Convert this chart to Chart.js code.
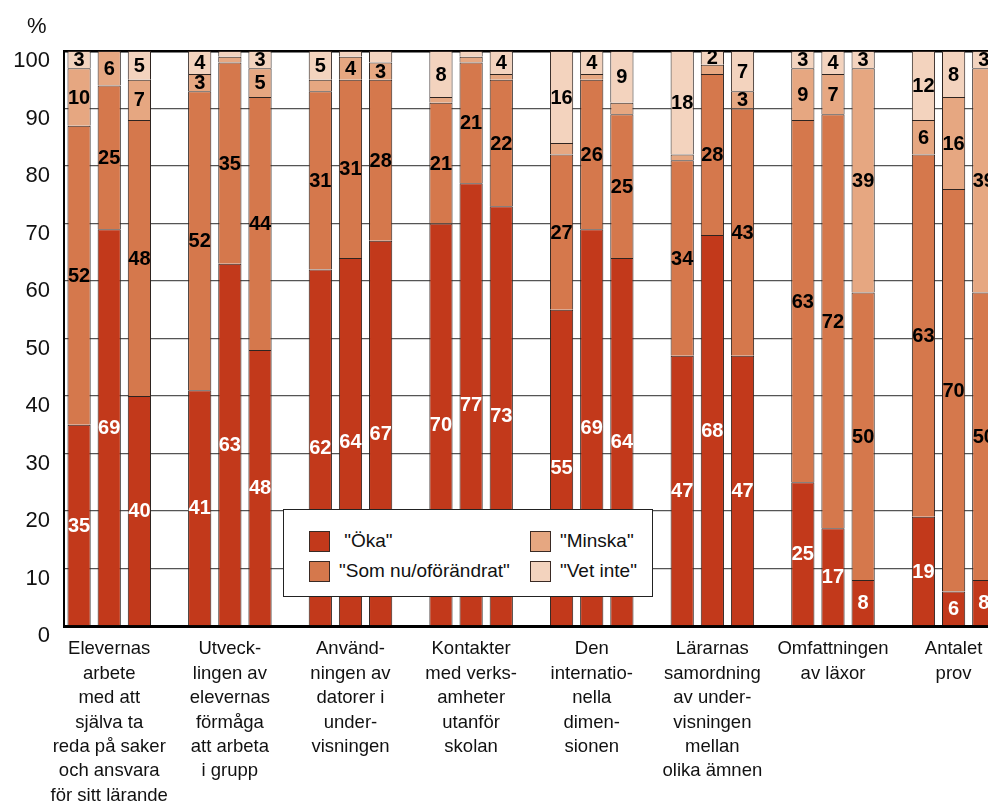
<!DOCTYPE html>
<html lang="sv">
<head>
<meta charset="utf-8">
<title>Öka / Som nu / Minska / Vet inte</title>
<script src="https://cdn.jsdelivr.net/npm/chart.js@4.4.0/dist/chart.umd.min.js"></script>
<style>
    html, body {
        margin: 0;
        padding: 0;
        background: #fff;
        overflow: hidden;
    }
    #wrap {
        position: relative;
        width: 1036px;
        height: 808px;
    }
    #unit {
        position: absolute;
        left: 27px;
        top: 13px;
        font: 22px "Liberation Sans", Arial, sans-serif;
        color: #111;
    }
    #legend {
        position: absolute;
        left: 283px;
        top: 509px;
        width: 343px;
        height: 70px;
        padding: 16px 0 0 25px;
        border: 1px solid #222;
        background: #fff;
        box-sizing: content-box;
        display: grid;
        grid-template-columns: 221px auto;
        grid-template-rows: 30px 30px;
        grid-auto-flow: column;
    }
    .legend-item {
        display: flex;
        align-items: center;
        font: 19px "Liberation Sans", Arial, sans-serif;
        color: #111;
        white-space: pre;
    }
    .legend-swatch {
        width: 19px;
        height: 19px;
        border: 1px solid #3a2a24;
        margin-right: 9px;
        flex: none;
    }
</style>
</head>
<body>
<div id="wrap">
    <canvas id="chart" width="1036" height="808"></canvas>
    <div id="unit">%</div>
    <div id="legend"></div>
</div>
<script>
// Category names (one per group of three bars), split into lines as in the original
const categories = [
    ['Elevernas', 'arbete', 'med att', 'själva ta', 'reda på saker', 'och ansvara', 'för sitt lärande'],
    ['Utveck-', 'lingen av', 'elevernas', 'förmåga', 'att arbeta', 'i grupp'],
    ['Använd-', 'ningen av', 'datorer i', 'under-', 'visningen'],
    ['Kontakter', 'med verks-', 'amheter', 'utanför', 'skolan'],
    ['Den', 'internatio-', 'nella', 'dimen-', 'sionen'],
    ['Lärarnas', 'samordning', 'av under-', 'visningen', 'mellan', 'olika ämnen'],
    ['Omfattningen', 'av läxor'],
    ['Antalet', 'prov']
];

const seriesNames = [' "Öka"', '"Som nu/oförändrat"', '"Minska"', '"Vet inte"'];
const seriesColors = ['#c2391b', '#d5784c', '#e6a781', '#f3d3be'];

// Values, three bars per category (percent)
const oka     = [35, 69, 40,  41, 63, 48,  62, 64, 67,  70, 77, 73,  55, 69, 64,  47, 68, 47,  25, 17,  8,  19,  6,  8];
const somNu   = [52, 25, 48,  52, 35, 44,  31, 31, 28,  21, 21, 22,  27, 26, 25,  34, 28, 43,  63, 72, 50,  63, 70, 50];
const minska  = [10,  6,  7,   3,  1,  5,   2,  4,  3,   1,  1,  1,   2,  1,  2,   1, 1.6, 3,   9,  7, 39,   6, 16, 39];
const vetInte = [ 3,  1,  5,   4,  1,  3,   5,  1,  2,   8,  1,  4,  16,  4,  9,  18, 2.4, 7,   3,  4,  3,  12,  8,  3];

const yTicks = [0, 10, 20, 30, 40, 50, 60, 70, 80, 90, 100];

const BARS_PER_GROUP = 3;

// each group gets 3 bar slots plus one empty slot as gap
function toSlots(values) {
    const out = [];
    for (let g = 0; g < categories.length; g++) {
        for (let b = 0; b < BARS_PER_GROUP; b++) {
            out.push(values[g * BARS_PER_GROUP + b]);
        }
        out.push(null);
    }
    return out;
}

const slotLabels = [];
categories.forEach(function(cat) {
    slotLabels.push('', cat, '', '');
});

const FONT = '"Liberation Sans", Arial, sans-serif';

const valueLabels = {
    id: 'valueLabels',
    afterDatasetsDraw(chart) {
        const ctx = chart.ctx;
        ctx.save();
        ctx.font = 'bold 20px ' + FONT;
        ctx.textAlign = 'center';
        ctx.textBaseline = 'middle';
        chart.data.datasets.forEach((ds, i) => {
            const meta = chart.getDatasetMeta(i);
            meta.data.forEach((bar, j) => {
                const v = ds.data[j];
                if (v == null || v <= 2) return;
                ctx.fillStyle = i === 0 ? '#ffffff' : '#000000';
                ctx.fillText(String(Math.round(v)), bar.x, (bar.y + bar.base) / 2 + 1);
            });
        });
        ctx.restore();
    }
};

const allSeries = [oka, somNu, minska, vetInte];

const chart = new Chart(document.getElementById('chart').getContext('2d'), {
    type: 'bar',
    data: {
        labels: slotLabels,
        datasets: allSeries.map((vals, i) => ({
            label: seriesNames[i],
            data: toSlots(vals),
            backgroundColor: seriesColors[i],
            borderColor: '#2e2420',
            borderWidth: 1,
            barPercentage: 0.77,
            categoryPercentage: 1
        }))
    },
    options: {
        responsive: false,
        animation: false,
        layout: {
            padding: { top: 51, right: 7, left: 0, bottom: 0 }
        },
        plugins: {
            legend: { display: false },
            tooltip: { enabled: false }
        },
        scales: {
            x: {
                stacked: true,
                grid: { display: false },
                border: { display: true, color: '#000', width: 3 },
                ticks: {
                    autoSkip: false,
                    maxRotation: 0,
                    minRotation: 0,
                    padding: 3,
                    color: '#111',
                    font: { family: FONT, size: 18.5, lineHeight: 1.32 }
                },
                afterFit(scale) {
                    scale.height = 182;
                }
            },
            y: {
                stacked: true,
                min: 0,
                max: 100,
                afterBuildTicks(scale) {
                    scale.ticks = yTicks.map(v => ({ value: v }));
                },
                grid: {
                    drawTicks: false,
                    color: ctx => ctx.tick && ctx.tick.value === 100 ? '#000' : '#555',
                    lineWidth: ctx => ctx.tick && ctx.tick.value === 100 ? 2.5 : 1.3
                },
                border: { display: true, color: '#000', width: 2 },
                ticks: {
                    padding: 14,
                    labelOffset: 10,
                    color: '#111',
                    font: { family: FONT, size: 22 }
                },
                afterFit(scale) {
                    scale.width = 64;
                }
            }
        }
    },
    plugins: [valueLabels]
});

// legend box drawn as html, two columns
const legendEl = document.getElementById('legend');
chart.data.datasets.forEach(function(ds) {
    const item = document.createElement('div');
    item.className = 'legend-item';
    const sw = document.createElement('span');
    sw.className = 'legend-swatch';
    sw.style.background = ds.backgroundColor;
    const txt = document.createElement('span');
    txt.textContent = ds.label;
    item.appendChild(sw);
    item.appendChild(txt);
    legendEl.appendChild(item);
});
</script>
</body>
</html>
